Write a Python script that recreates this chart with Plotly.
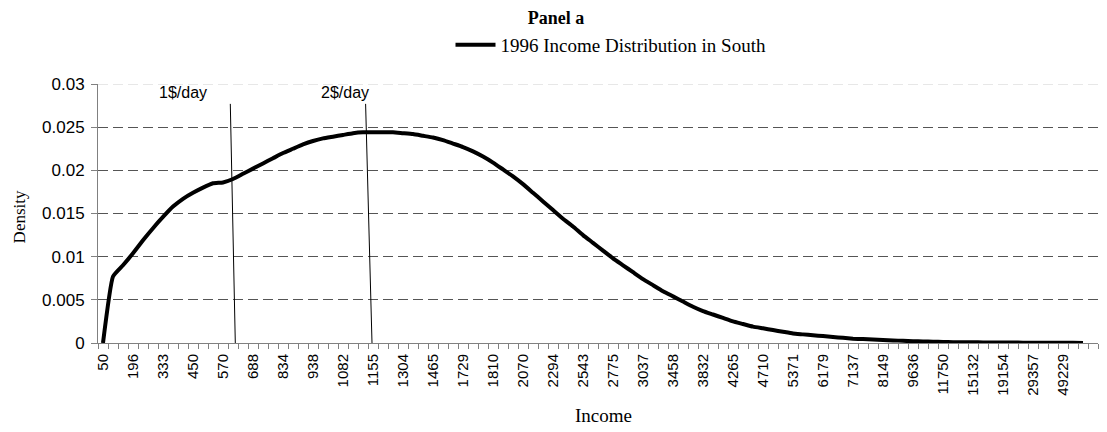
import plotly.graph_objects as go

# Income categories (only every third one is labelled on the axis)
tick_labels = ["50", "196", "333", "450", "570", "688", "834", "938", "1082", "1155",
               "1304", "1465", "1729", "1810", "2070", "2294", "2543", "2775", "3037",
               "3458", "3832", "4265", "4710", "5371", "6179", "7137", "8149", "9636",
               "11750", "15132", "19154", "29357", "49229"]
n_categories = 100

# Density, one value per income category
density = [
    0.0, 0.0077, 0.0090, 0.0104, 0.0119, 0.0133, 0.0146, 0.0158, 0.0167, 0.0174,
    0.0180, 0.0185, 0.0186, 0.0190, 0.0196, 0.0202, 0.0208, 0.0214, 0.0220, 0.0225,
    0.0230, 0.0234, 0.0237, 0.0239, 0.0241, 0.0243, 0.0244, 0.0244, 0.0244, 0.0244,
    0.0243, 0.0242, 0.0240, 0.0238, 0.0235, 0.0231, 0.0227, 0.0222, 0.0216, 0.0209,
    0.0201, 0.0193, 0.0184, 0.0174, 0.0164, 0.0154, 0.0144, 0.0135, 0.0125, 0.0116,
    0.0107, 0.0098, 0.0090, 0.0082, 0.0074, 0.0067, 0.0060, 0.0054, 0.0048, 0.0042,
    0.0037, 0.0033, 0.0029, 0.0025, 0.0022, 0.0019, 0.0017, 0.0015, 0.0013, 0.0011,
    0.0010, 0.0009, 0.0008, 0.0007, 0.0006, 0.0005, 0.00045, 0.0004, 0.00035, 0.0003,
    0.00025, 0.0002, 0.00018, 0.00015, 0.00012, 0.0001, 0.00009, 0.00008, 0.00007, 0.00006,
    0.00005, 0.00005, 0.00004, 0.00004, 0.00003, 0.00003, 0.00003, 0.00002, 0.0,
]

# Poverty lines: label, label position, line top / bottom (category units)
poverty_lines = [
    ("1$/day", 8.0, 12.73, 13.23),
    ("2$/day", 24.2, 26.26, 26.90),
]
line_top = 0.0277

SANS = "Liberation Sans, Arial, sans-serif"
SERIF = "Liberation Serif, Times New Roman, serif"

fig = go.Figure()
fig.add_trace(go.Scatter(
    x=list(range(len(density))),
    y=density,
    mode="lines",
    name="1996 Income Distribution in South",
    line=dict(color="black", width=4, shape="spline", smoothing=0.4),
))

for label, x_text, x_top, x_bottom in poverty_lines:
    fig.add_shape(type="line", xref="x", yref="y",
                  x0=x_top, y0=line_top, x1=x_bottom, y1=0,
                  line=dict(color="black", width=1))
    fig.add_annotation(text=label, xref="x", yref="paper",
                       x=x_text, y=0.969, yanchor="middle", showarrow=False,
                       font=dict(family=SANS, size=16, color="black"))

# faint top gridline at 0.03
fig.add_shape(type="line", xref="paper", yref="y", x0=0, x1=1, y0=0.03, y1=0.03,
              line=dict(color="#d0d0d0", width=1, dash="10px,5px"))

fig.add_annotation(text="Income", xref="paper", yref="paper", x=0.505, y=-0.281,
                   yanchor="middle", showarrow=False,
                   font=dict(family=SERIF, size=19, color="black"))
fig.add_annotation(text="Density", xref="paper", yref="paper", x=-0.079, y=0.485,
                   textangle=-90, xanchor="center", yanchor="middle", showarrow=False,
                   font=dict(family=SERIF, size=17, color="black"))

fig.update_layout(
    width=1099, height=424,
    paper_bgcolor="white", plot_bgcolor="white",
    margin=dict(l=90, r=9, t=76, b=89),
    title=dict(text="<b>Panel a</b>", xref="container", x=0.4986, xanchor="center",
               yref="container", y=0.978, yanchor="middle",
               font=dict(family=SERIF, size=18, color="black")),
    showlegend=True,
    legend=dict(orientation="h", x=0.513, xanchor="center",
                yref="container", y=0.9127, yanchor="middle",
                font=dict(family=SERIF, size=19, color="black"),
                bgcolor="rgba(0,0,0,0)", itemwidth=40),
)

fig.update_xaxes(
    automargin=False,
    range=[-0.5, n_categories - 0.5],
    tickmode="array",
    tickvals=[3 * i for i in range(len(tick_labels))],
    ticktext=tick_labels,
    tickangle=-90,
    ticks="",
    ticklabelstandoff=4,
    tickfont=dict(family=SANS, size=15, color="black"),
    showgrid=False, zeroline=False,
    showline=True, linecolor="#808080", linewidth=1,
    minor=dict(tickmode="linear", tick0=-0.5, dtick=1, ticks="outside",
               ticklen=5, tickcolor="#808080", showgrid=False),
)
fig.update_yaxes(
    automargin=False,
    range=[0, 0.03],
    tickmode="linear", tick0=0, dtick=0.005,
    tickformat="~g",
    ticks="outside", ticklen=6, tickcolor="#808080",
    ticklabelstandoff=3,
    tickfont=dict(family=SANS, size=17, color="black"),
    showgrid=True, gridcolor="#555555", griddash="10px,5px", gridwidth=1,
    zeroline=False,
    showline=True, linecolor="#808080", linewidth=1,
)

fig.write_html("out.html")
